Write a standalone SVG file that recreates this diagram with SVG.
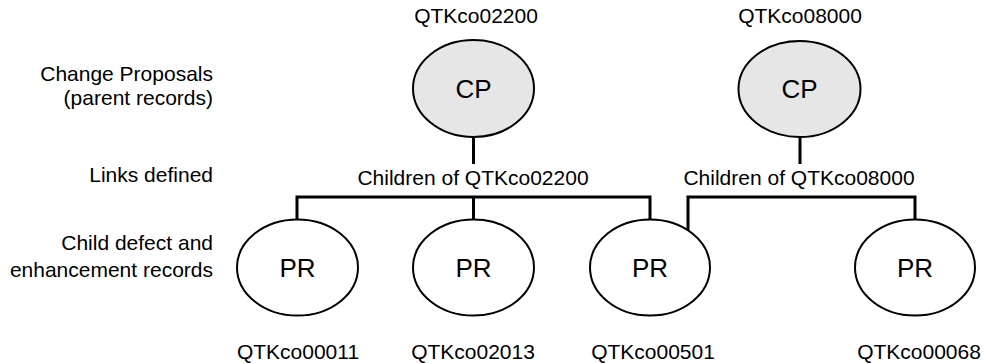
<svg xmlns="http://www.w3.org/2000/svg" width="983" height="363" viewBox="0 0 983 363">
<style>
text{font-family:"Liberation Sans",Arial,sans-serif;font-size:21px;fill:#000}
.side{text-anchor:end}
.mid{text-anchor:middle}
.big{font-size:26px}
.cp{fill:#e6e6e6;stroke:#000;stroke-width:2}
.pr{fill:#fff;stroke:#000;stroke-width:2}
.link{fill:none;stroke:#000;stroke-width:3;stroke-linejoin:miter}
</style>
<rect width="983" height="363" fill="#fff"/>
<g id="row-labels">
<text class="side" x="213" y="81">Change Proposals</text>
<text class="side" x="213" y="105">(parent records)</text>
<text class="side" x="213" y="182">Links defined</text>
<text class="side" x="213" y="250">Child defect and</text>
<text class="side" x="213" y="277">enhancement records</text>
</g>
<g id="connectors">
<line class="link" x1="473.5" y1="137" x2="473.5" y2="164"/>
<line class="link" x1="800" y1="137" x2="800" y2="164"/>
<polyline class="link" points="297,220 297,197 650,197 650,221"/>
<line class="link" x1="473.5" y1="197" x2="473.5" y2="220"/>
<polyline class="link" points="688,231 688,197 915,197 915,221"/>
<text class="mid" x="473" y="185">Children of QTKco02200</text>
<text class="mid" x="799" y="185">Children of QTKco08000</text>
</g>
<g id="cp-02200">
<text class="mid" x="476" y="23">QTKco02200</text>
<ellipse class="cp" cx="473.5" cy="88.5" rx="60.5" ry="48.5"/>
<text class="mid big" x="473.5" y="98">CP</text>
</g>
<g id="cp-08000">
<text class="mid" x="800" y="23">QTKco08000</text>
<ellipse class="cp" cx="799.5" cy="89" rx="61" ry="48"/>
<text class="mid big" x="799.5" y="98">CP</text>
</g>
<g id="pr-00011">
<ellipse class="pr" cx="297.5" cy="267.5" rx="60.5" ry="48"/>
<text class="mid big" x="297.5" y="277">PR</text>
<text class="mid" x="298" y="359">QTKco00011</text>
</g>
<g id="pr-02013">
<ellipse class="pr" cx="473.5" cy="267.5" rx="60.5" ry="48"/>
<text class="mid big" x="473.5" y="277">PR</text>
<text class="mid" x="473" y="359">QTKco02013</text>
</g>
<g id="pr-00501">
<ellipse class="pr" cx="650" cy="267.5" rx="60" ry="48"/>
<text class="mid big" x="650" y="277">PR</text>
<text class="mid" x="653" y="359">QTKco00501</text>
</g>
<g id="pr-00068">
<ellipse class="pr" cx="915" cy="267.5" rx="60" ry="48"/>
<text class="mid big" x="915" y="277">PR</text>
<text class="mid" x="919" y="359">QTKco00068</text>
</g>
</svg>
